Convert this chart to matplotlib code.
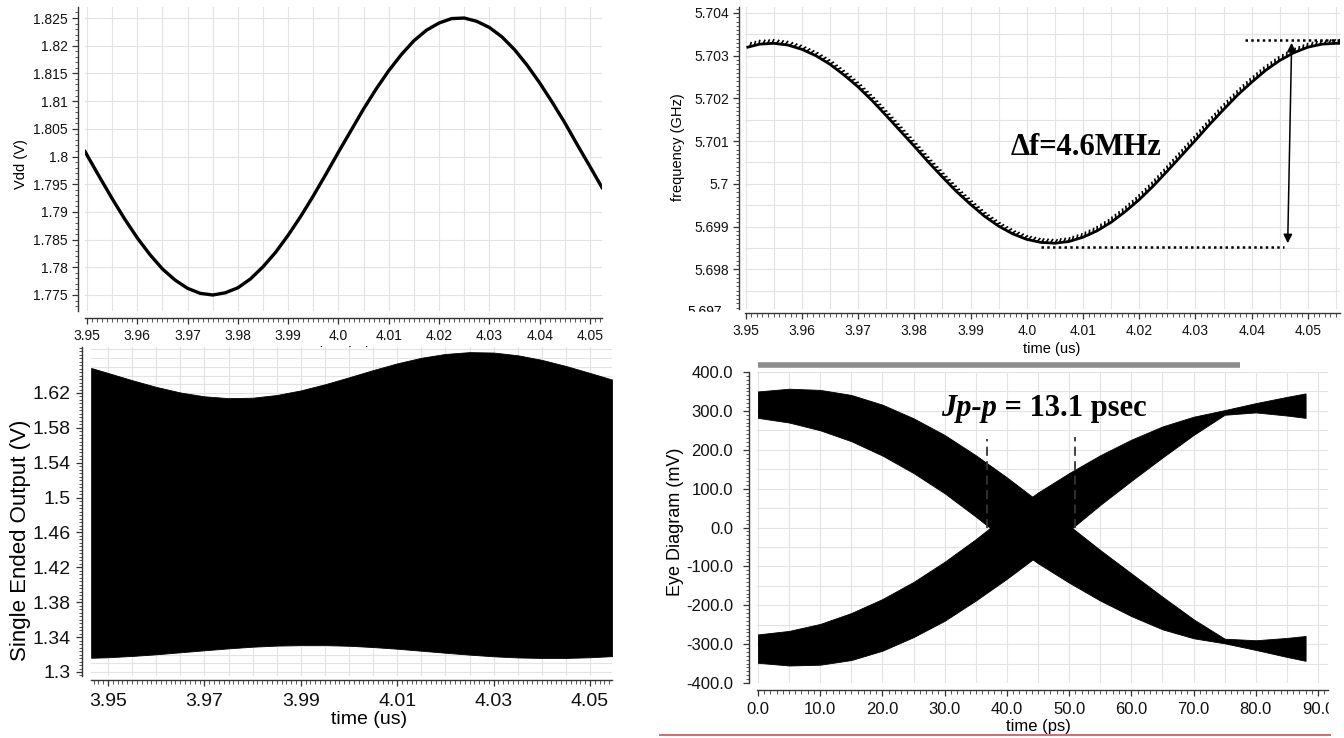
import numpy as np
import matplotlib
matplotlib.use("Agg")
import matplotlib.pyplot as plt
import matplotlib.patheffects as pe
from matplotlib.ticker import MultipleLocator
from matplotlib.patches import Rectangle
from matplotlib.lines import Line2D

plt.rcParams["font.family"] = ["Liberation Sans", "DejaVu Sans"]

# ---------------- data ----------------
# top left: Vdd (V) against time (us)
vdd_time = [3.9496, 3.9523, 3.955, 3.9575, 3.960, 3.9625, 3.965, 3.9675,
            3.970, 3.9725, 3.975, 3.9775, 3.980, 3.9825, 3.985, 3.9875,
            3.990, 3.9925, 3.995, 3.9975, 4.000, 4.0025, 4.005, 4.0075,
            4.010, 4.0125, 4.015, 4.0175, 4.020, 4.0225, 4.025, 4.0275,
            4.030, 4.0325, 4.035, 4.0375, 4.040, 4.0425, 4.045, 4.0475,
            4.050, 4.0524]
vdd_volt = [1.8009, 1.7966, 1.7924, 1.7887, 1.7853, 1.7823, 1.7797, 1.7777,
            1.7762, 1.7753, 1.7750, 1.7754, 1.7763, 1.7779, 1.7801, 1.7827,
            1.7858, 1.7892, 1.7929, 1.7968, 1.8008, 1.8047, 1.8086, 1.8122,
            1.8155, 1.8184, 1.8209, 1.8228, 1.8241, 1.8249, 1.8250, 1.8244,
            1.8233, 1.8216, 1.8193, 1.8165, 1.8133, 1.8098, 1.8061, 1.8021,
            1.7982, 1.7944]

# top right: oscillator frequency (GHz) against time (us)
freq_time = [3.9504, 3.9525, 3.955, 3.9575, 3.960, 3.9625, 3.965, 3.9675,
             3.970, 3.9725, 3.975, 3.9775, 3.980, 3.9825, 3.985, 3.9875,
             3.990, 3.9925, 3.995, 3.9975, 4.000, 4.0025, 4.005, 4.0075,
             4.010, 4.0125, 4.015, 4.0175, 4.020, 4.0225, 4.025, 4.0275,
             4.030, 4.0325, 4.035, 4.0375, 4.040, 4.0425, 4.045, 4.0475,
             4.050, 4.0525, 4.055, 4.0557]
freq_ghz = [5.70320, 5.70327, 5.70329, 5.70325, 5.70315, 5.70300, 5.70280,
            5.70255, 5.70227, 5.70195, 5.70160, 5.70124, 5.70088, 5.70051,
            5.70016, 5.69982, 5.69952, 5.69924, 5.69901, 5.69883, 5.69870,
            5.69863, 5.69861, 5.69865, 5.69875, 5.69890, 5.69910, 5.69935,
            5.69963, 5.69995, 5.70030, 5.70066, 5.70102, 5.70139, 5.70174,
            5.70208, 5.70238, 5.70266, 5.70289, 5.70307, 5.70320, 5.70327,
            5.70329, 5.70329]
# delta-f markers: dotted max / min levels and the arrow
df_max_level = 5.70337
df_max_span = [4.0388, 4.0557]
df_min_level = 5.69852
df_min_span = [4.0025, 4.0457]
df_arrow_time = [4.0471, 4.0464]
df_arrow_freq = [5.70330, 5.69861]

# bottom left: envelope of the single ended output (V)
out_time = [3.9465, 3.950, 3.955, 3.960, 3.965, 3.970, 3.975, 3.980, 3.985,
            3.990, 3.995, 4.000, 4.005, 4.010, 4.015, 4.020, 4.025, 4.030,
            4.035, 4.040, 4.045, 4.050, 4.0546]
out_high = [1.6487, 1.6430, 1.6347, 1.6270, 1.6206, 1.6162, 1.6141, 1.6146,
            1.6177, 1.6230, 1.6300, 1.6380, 1.6463, 1.6540, 1.6604, 1.6648,
            1.6669, 1.6664, 1.6633, 1.6580, 1.6510, 1.6430, 1.6354]
out_low = [1.3163, 1.3169, 1.3184, 1.3203, 1.3226, 1.3249, 1.3271, 1.3290,
           1.3303, 1.3309, 1.3309, 1.3301, 1.3286, 1.3267, 1.3244, 1.3221,
           1.3199, 1.3180, 1.3167, 1.3161, 1.3161, 1.3169, 1.3182]

# bottom right: eye diagram bands (mV) against time (ps)
eye_time = [0, 5, 10, 15, 20, 25, 30, 35, 40, 45, 50, 55, 60, 65, 70, 75, 80, 85, 88]
fall_top = [350, 357, 354, 341, 316, 281, 238, 186, 129, 68, 5, -58, -118,
            -178, -236, -286, -290, -284, -279]
fall_bot = [282, 270, 250, 222, 185, 140, 88, 28, -35, -92, -142, -188, -228,
            -262, -285, -298, -315, -333, -343]
rise_top = [-275, -266, -248, -220, -184, -140, -88, -30, 33, 90, 140, 186,
            226, 260, 285, 302, 320, 336, 345]
rise_bot = [-348, -355, -353, -341, -317, -282, -240, -188, -132, -72, -8, 58,
            120, 180, 238, 290, 296, 288, 282]
jitter_marks = [36.8, 51.0]
jitter_top = [228, 232]

# tick labels
us_ticks = [3.95, 3.96, 3.97, 3.98, 3.99, 4.00, 4.01, 4.02, 4.03, 4.04, 4.05]
us_labels = ["3.95", "3.96", "3.97", "3.98", "3.99", "4.0", "4.01", "4.02",
             "4.03", "4.04", "4.05"]
vdd_ticks = [1.775, 1.78, 1.785, 1.79, 1.795, 1.8, 1.805, 1.81, 1.815, 1.82, 1.825]
vdd_labels = ["1.775", "1.78", "1.785", "1.79", "1.795", "1.8", "1.805",
              "1.81", "1.815", "1.82", "1.825"]
freq_ticks = [5.698, 5.699, 5.700, 5.701, 5.702, 5.703, 5.704]
freq_labels = ["5.698", "5.699", "5.7", "5.701", "5.702", "5.703", "5.704"]
out_xticks = [3.95, 3.97, 3.99, 4.01, 4.03, 4.05]
out_xlabels = ["3.95", "3.97", "3.99", "4.01", "4.03", "4.05"]
out_yticks = [1.30, 1.34, 1.38, 1.42, 1.46, 1.50, 1.54, 1.58, 1.62]
out_ylabels = ["1.3", "1.34", "1.38", "1.42", "1.46", "1.5", "1.54", "1.58", "1.62"]
eye_xticks = [0, 10, 20, 30, 40, 50, 60, 70, 80, 90]
eye_xlabels = ["0.0", "10.0", "20.0", "30.0", "40.0", "50.0", "60.0", "70.0",
               "80.0", "90.0"]
eye_yticks = [-400, -300, -200, -100, 0, 100, 200, 300, 400]
eye_ylabels = ["-400.0", "-300.0", "-200.0", "-100.0", "0.0", "100.0",
               "200.0", "300.0", "400.0"]

W, H = 1344, 738
PT = 0.72  # points per pixel at dpi 100


def box(x0, y0, x1, y1):
    return [x0 / W, 1 - y1 / H, (x1 - x0) / W, (y1 - y0) / H]


def ruler(ax, off_l, off_b, size, pad_x, pad_y):
    for s in ("top", "right"):
        ax.spines[s].set_visible(False)
    ax.spines["left"].set_position(("outward", off_l * PT))
    ax.spines["bottom"].set_position(("outward", off_b * PT))
    for s in ("left", "bottom"):
        ax.spines[s].set_linewidth(1.0)
        ax.spines[s].set_color("#333333")
    ax.tick_params(which="major", direction="out", length=6 * PT, width=0.9,
                   labelsize=size, color="#333333", labelcolor="#111111")
    ax.tick_params(which="minor", direction="out", length=3.5 * PT, width=0.7,
                   color="#555555")
    ax.tick_params(axis="x", which="major", pad=pad_x * PT)
    ax.tick_params(axis="y", which="major", pad=pad_y * PT)


def grid(ax, xs, ys):
    for x in xs:
        ax.axvline(x, color="#e3e3e3", lw=0.8, zorder=0)
    for y in ys:
        ax.axhline(y, color="#e3e3e3", lw=0.8, zorder=0)


fig = plt.figure(figsize=(W / 100, H / 100), dpi=100)

# ---------- top left ----------
ax1 = fig.add_axes(box(85, 7, 602, 311))
ax1.plot(vdd_time, vdd_volt, color="black", lw=2.4, zorder=3)
ax1.set_xlim(3.9496, 4.0524)
ax1.set_ylim(1.77211, 1.82699)
ax1.set_xticks(us_ticks, us_labels)
ax1.set_yticks(vdd_ticks, vdd_labels)
ax1.xaxis.set_minor_locator(MultipleLocator(0.001))
ax1.yaxis.set_minor_locator(MultipleLocator(0.001))
ruler(ax1, 7, 7, 10, 5, 4)
grid(ax1, np.arange(3.95, 4.0525, 0.005), np.arange(1.775, 1.8255, 0.005))
ax1.set_xlabel("time (us)", fontsize=10, labelpad=2.5)
fig.text(21 / W, 1 - 164 / H, "Vdd (V)", rotation=90, fontsize=10.5,
         ha="center", va="center")

# ---------- top right ----------
ax2 = fig.add_axes(box(745, 7, 1340, 309))
ax2.plot(freq_time, freq_ghz, color="black", lw=2.0, zorder=3,
         path_effects=[pe.withTickedStroke(spacing=3.2, angle=60, length=0.9,
                                           linewidth=1.2)])
ax2.set_xlim(3.9499, 4.0557)
ax2.set_ylim(5.69707, 5.70414)
ax2.set_xticks(us_ticks, us_labels)
ax2.set_yticks(freq_ticks, freq_labels)
ax2.xaxis.set_minor_locator(MultipleLocator(0.001))
ax2.yaxis.set_minor_locator(MultipleLocator(0.0001))
ruler(ax2, 6, 4, 10, 5, 4)
grid(ax2, np.arange(3.95, 4.056, 0.005), np.arange(5.6975, 5.70405, 0.0005))
ax2.plot(df_max_span, [df_max_level] * 2, color="black", lw=1.8,
         ls=(0, (1, 1.3)), zorder=4)
ax2.plot(df_min_span, [df_min_level] * 2, color="black", lw=1.8,
         ls=(0, (1, 1.3)), zorder=4)
ax2.annotate("", xy=(df_arrow_time[0], df_arrow_freq[0]),
             xytext=(df_arrow_time[1], df_arrow_freq[1]),
             arrowprops=dict(arrowstyle="<|-|>", color="black", lw=1.1,
                             mutation_scale=13, shrinkA=0, shrinkB=0),
             zorder=5)
ax2.text(4.0105, 5.70084, "\u0394f=4.6MHz", fontsize=22, fontweight="bold",
         family="Liberation Serif", ha="center", va="center", zorder=6)
fig.text(1052 / W, 1 - 349 / H, "time (us)", fontsize=10.5, ha="center",
         va="center")
fig.text(678 / W, 1 - 147 / H, "frequency (GHz)", rotation=90, fontsize=10.5,
         ha="center", va="center")
fig.text(722 / W, 1 - 312 / H, "5.697", fontsize=10, ha="right", va="center")
fig.add_artist(Rectangle((680 / W, 1 - 322 / H), 60 / W, 10 / H,
                         transform=fig.transFigure, color="white", zorder=5))

# ---------- bottom left ----------
ax3 = fig.add_axes(box(91, 347, 612, 676))
ax3.fill_between(out_time, out_low, out_high, color="black", lw=0.6,
                 edgecolor="black", zorder=3)
ax3.set_xlim(3.94647, 4.05456)
ax3.set_ylim(1.29541, 1.67276)
ax3.set_xticks(out_xticks, out_xlabels)
ax3.set_yticks(out_yticks, out_ylabels)
ax3.xaxis.set_minor_locator(MultipleLocator(0.001))
ax3.yaxis.set_minor_locator(MultipleLocator(0.004))
ruler(ax3, 9, 4, 14, 7, 5)
grid(ax3, np.arange(3.95, 4.055, 0.005), np.arange(1.30, 1.675, 0.01))
fig.text(369 / W, 1 - 720 / H, "time (us)", fontsize=14, ha="center",
         va="center")
fig.text(21 / W, 1 - 540 / H, "Single Ended Output (V)", rotation=90,
         fontsize=16, ha="center", va="center")

# ---------- bottom right ----------
ax4 = fig.add_axes(box(757, 372, 1328, 683))
ax4.fill_between(eye_time, fall_bot, fall_top, color="black", lw=0.6,
                 edgecolor="black", zorder=3)
ax4.fill_between(eye_time, rise_bot, rise_top, color="black", lw=0.6,
                 edgecolor="black", zorder=3)
ax4.vlines(jitter_marks, [0, 0], jitter_top, colors="#333333", lw=1.3,
           linestyles=(0, (5, 3)), zorder=4)
ax4.set_xlim(-0.15, 91.6)
ax4.set_ylim(-400, 400)
ax4.set_xticks(eye_xticks, eye_xlabels)
ax4.set_yticks(eye_yticks, eye_ylabels)
ax4.xaxis.set_minor_locator(MultipleLocator(1))
ax4.yaxis.set_minor_locator(MultipleLocator(10))
ruler(ax4, 8, 7, 12, 6, 10)
grid(ax4, np.arange(0, 92, 5), np.arange(-400, 401, 50))
ax4.plot([0, 77.5], [418, 418], color="#8c8c8c", lw=4, clip_on=False,
         solid_capstyle="butt")
ax4.text(38.4, 306, "Jp-p", fontsize=22, fontweight="bold",
         fontstyle="italic", family="Liberation Serif", ha="right",
         va="center", zorder=6)
ax4.text(38.4, 306, " = 13.1 psec", fontsize=22, fontweight="bold",
         family="Liberation Serif", ha="left", va="center", zorder=6)
fig.text(1038 / W, 1 - 727 / H, "time (ps)", fontsize=12, ha="center",
         va="center")
fig.text(676 / W, 1 - 522 / H, "Eye Diagram (mV)", rotation=90, fontsize=13,
         ha="center", va="center")
fig.add_artist(Rectangle((1329 / W, 1 - 722 / H), 15 / W, 22 / H,
                         transform=fig.transFigure, color="white", zorder=5))
fig.add_artist(Line2D([660 / W, 1330 / W], [1 - 735 / H, 1 - 735 / H],
                      transform=fig.transFigure, color="#d46a6a", lw=1.4))

fig.savefig("out.png", dpi=100, facecolor="white")
